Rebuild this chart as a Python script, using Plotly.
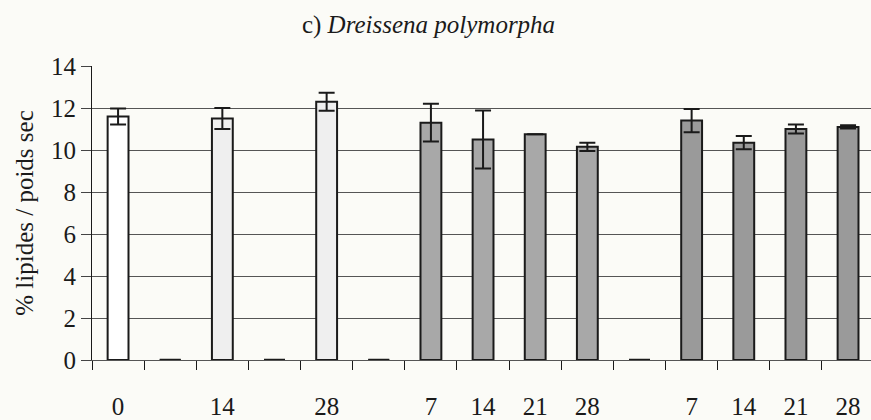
import plotly.graph_objects as go

# Sampling days per slot (empty strings are spacer slots between treatments)
day_labels = ["0", "", "14", "", "28", "", "7", "14", "21", "28", "", "7", "14", "21", "28"]
# Mean lipid content (% of dry weight)
lipid_pct = [11.6, 0, 11.5, 0, 12.3, 0, 11.3, 10.5, 10.75, 10.15, 0, 11.4, 10.35, 11.0, 11.1]
# Standard deviation
lipid_sd = [0.38, 0, 0.5, 0, 0.43, 0, 0.9, 1.38, 0.0, 0.2, 0, 0.55, 0.32, 0.22, 0.08]
# Fill type per slot: "" plain, "." stipple, "/" hatched, "-" striped
fill_shape = ["", "", ".", "", ".", "", "/", "/", "/", "/", "", "-", "-", "-", "-"]

slots = list(range(len(day_labels)))
fill_color = {"": "#ffffff", ".": "#efefef", "/": "#a8a8a8", "-": "#9a9a9a"}

SERIF = "Liberation Serif"
INK = "#1a1a1a"
BG = "#fbfbf7"

fig = go.Figure()

fig.add_trace(go.Bar(
    x=slots,
    y=lipid_pct,
    width=0.4,
    marker=dict(
        color=[fill_color[s] for s in fill_shape],
        line=dict(color=INK, width=2),
    ),
    error_y=dict(
        type="data",
        array=lipid_sd,
        visible=True,
        color=INK,
        thickness=2,
        width=8,
    ),
    showlegend=False,
    hoverinfo="skip",
))

# Empty slots show as a short dash on the baseline
zero_x = [s for s, v in zip(slots, lipid_pct) if v == 0]
zero_y = [v for v in lipid_pct if v == 0]
fig.add_trace(go.Scatter(
    x=zero_x,
    y=zero_y,
    mode="markers",
    marker=dict(symbol="line-ew", size=15, line=dict(color=INK, width=2.5)),
    showlegend=False,
    hoverinfo="skip",
))

x_range = [-0.5, 14.44]

fig.update_layout(
    width=871,
    height=420,
    margin=dict(l=92, r=0, t=66, b=56),
    paper_bgcolor=BG,
    plot_bgcolor=BG,
    font=dict(family=SERIF, size=25, color=INK),
    title=dict(
        text="c) <i>Dreissena polymorpha</i>",
        x=0.492,
        xanchor="center",
        y=0.943,
        yanchor="middle",
        font=dict(family=SERIF, size=25, color=INK),
    ),
    bargap=0.6,
    xaxis=dict(
        range=x_range,
        tickmode="array",
        tickvals=slots,
        ticktext=day_labels,
        # invisible major ticks push the day labels down below the axis
        ticks="outside",
        ticklen=24,
        tickcolor="rgba(0,0,0,0)",
        showgrid=False,
        zeroline=False,
        showline=True,
        linecolor="#555555",
        linewidth=1,
        tickfont=dict(family=SERIF, size=25, color=INK),
        minor=dict(
            tickmode="linear",
            tick0=-0.5,
            dtick=1,
            ticks="outside",
            ticklen=9,
            tickwidth=1,
            tickcolor=INK,
            showgrid=False,
        ),
    ),
    yaxis=dict(
        range=[0, 14],
        tickmode="linear",
        tick0=0,
        dtick=2,
        ticks="outside",
        ticklen=10,
        tickwidth=1,
        tickcolor="#444444",
        showgrid=True,
        gridcolor="#555555",
        gridwidth=1,
        zeroline=False,
        showline=True,
        linecolor=INK,
        linewidth=1,
        tickfont=dict(family=SERIF, size=25, color=INK),
        title=dict(
            text="% lipides / poids sec",
            font=dict(family=SERIF, size=25, color=INK),
            standoff=10,
        ),
    ),
)

fig.write_html("out.html")
